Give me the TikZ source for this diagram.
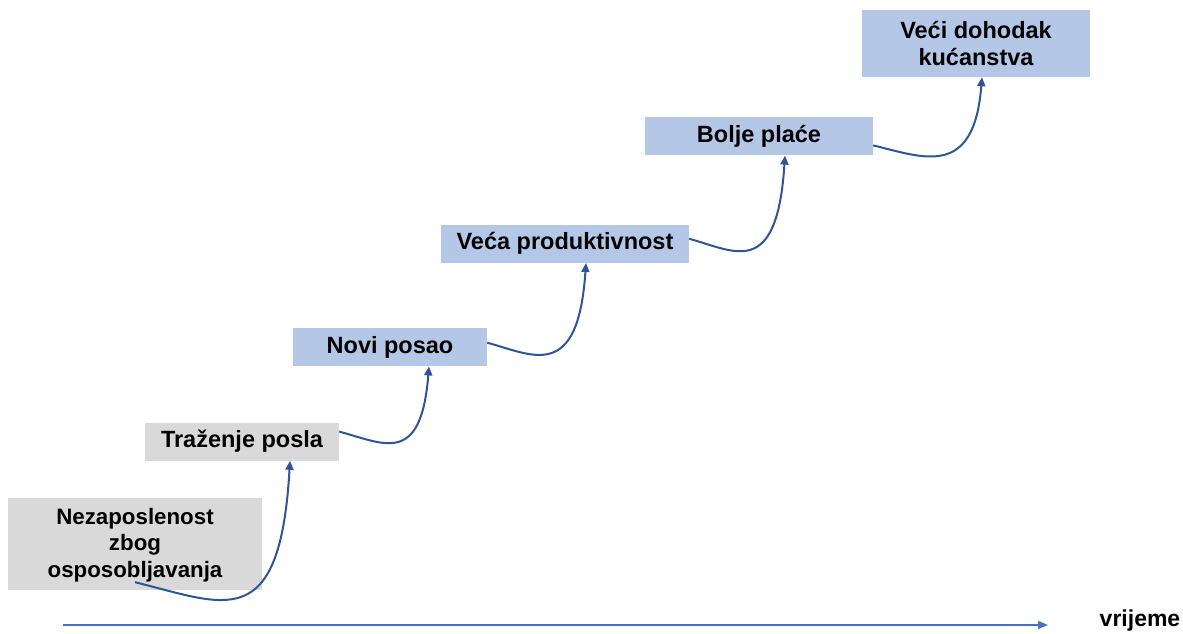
\documentclass[tikz,border=0pt]{standalone}
\usepackage{fontspec}
\setmainfont{Liberation Sans}
\usetikzlibrary{positioning}
\usetikzlibrary{arrows.meta}
\definecolor{stepgray}{HTML}{D9D9D9}
\definecolor{stepblue}{HTML}{B4C7E7}
\definecolor{linkblue}{HTML}{2F5597}
\definecolor{axisblue}{HTML}{4472C4}

\begin{document}
\begin{tikzpicture}[x=1pt, y=-1pt,
	every node/.style={font=\fontsize{23.5}{27}\selectfont\bfseries, inner sep=0pt, align=center},
	graybox/.style={fill=stepgray, minimum height=38pt},
	bluebox/.style={fill=stepblue, minimum height=38pt},
	link/.style={draw=linkblue, line width=2pt, -{Triangle[length=9pt,width=8pt]}}]
	\useasboundingbox (0,0) rectangle (1183,633);
	
	% Nodes
	\node[graybox, minimum width=254pt, minimum height=92pt, font=\fontsize{22.3}{26.5}\selectfont\bfseries] (nez) at (135,544) {\strut Nezaposlenost\\zbog\\osposobljavanja};
	\node[graybox, minimum width=194pt, above=37pt of nez, xshift=107pt] (trazenje) {Traženje posla};
	\node[bluebox, minimum width=194pt, above=56pt of trazenje, xshift=148pt] (novi) {Novi posao};
	\node[bluebox, minimum width=248pt, above=65pt of novi, xshift=175pt] (veca) {Veća produktivnost};
	\node[bluebox, minimum width=228pt, above=69pt of veca, xshift=194pt] (bolje) {Bolje plaće};
	\node[bluebox, minimum width=228pt, minimum height=67pt, above=40pt of bolje, xshift=217pt] (veci) {Veći dohodak\\kućanstva};
	
	% Arrows
	\draw[link] ([yshift=8pt]nez.south) .. controls +(90,22) and +(-10,175) .. ([xshift=48pt]trazenje.south);
	\draw[link] ([yshift=10pt]trazenje.east) .. controls +(45,12) and +(-8,100) .. ([xshift=39pt]novi.south);
	\draw[link] ([yshift=4.5pt]novi.east) .. controls +(45,12) and +(-8,120) .. ([xshift=21pt]veca.south);
	\draw[link] ([yshift=5pt]veca.east) .. controls +(45,12) and +(-8,125) .. ([xshift=26pt]bolje.south);
	\draw[link] ([yshift=-9pt]bolje.east) .. controls +(50,12) and +(-8,102) .. ([xshift=6pt]veci.south);
	
	% Time axis
	\coordinate (t0) at (63,625);
	\coordinate (t1) at (1048,625);
	\draw[draw=axisblue, line width=1.5pt, -{Triangle[length=10pt,width=8pt]}] (t0) -- (t1);
	\node[font=\fontsize{23}{27}\selectfont\bfseries] (vrijeme) at (1140,621) {vrijeme};
\end{tikzpicture}
\end{document}
